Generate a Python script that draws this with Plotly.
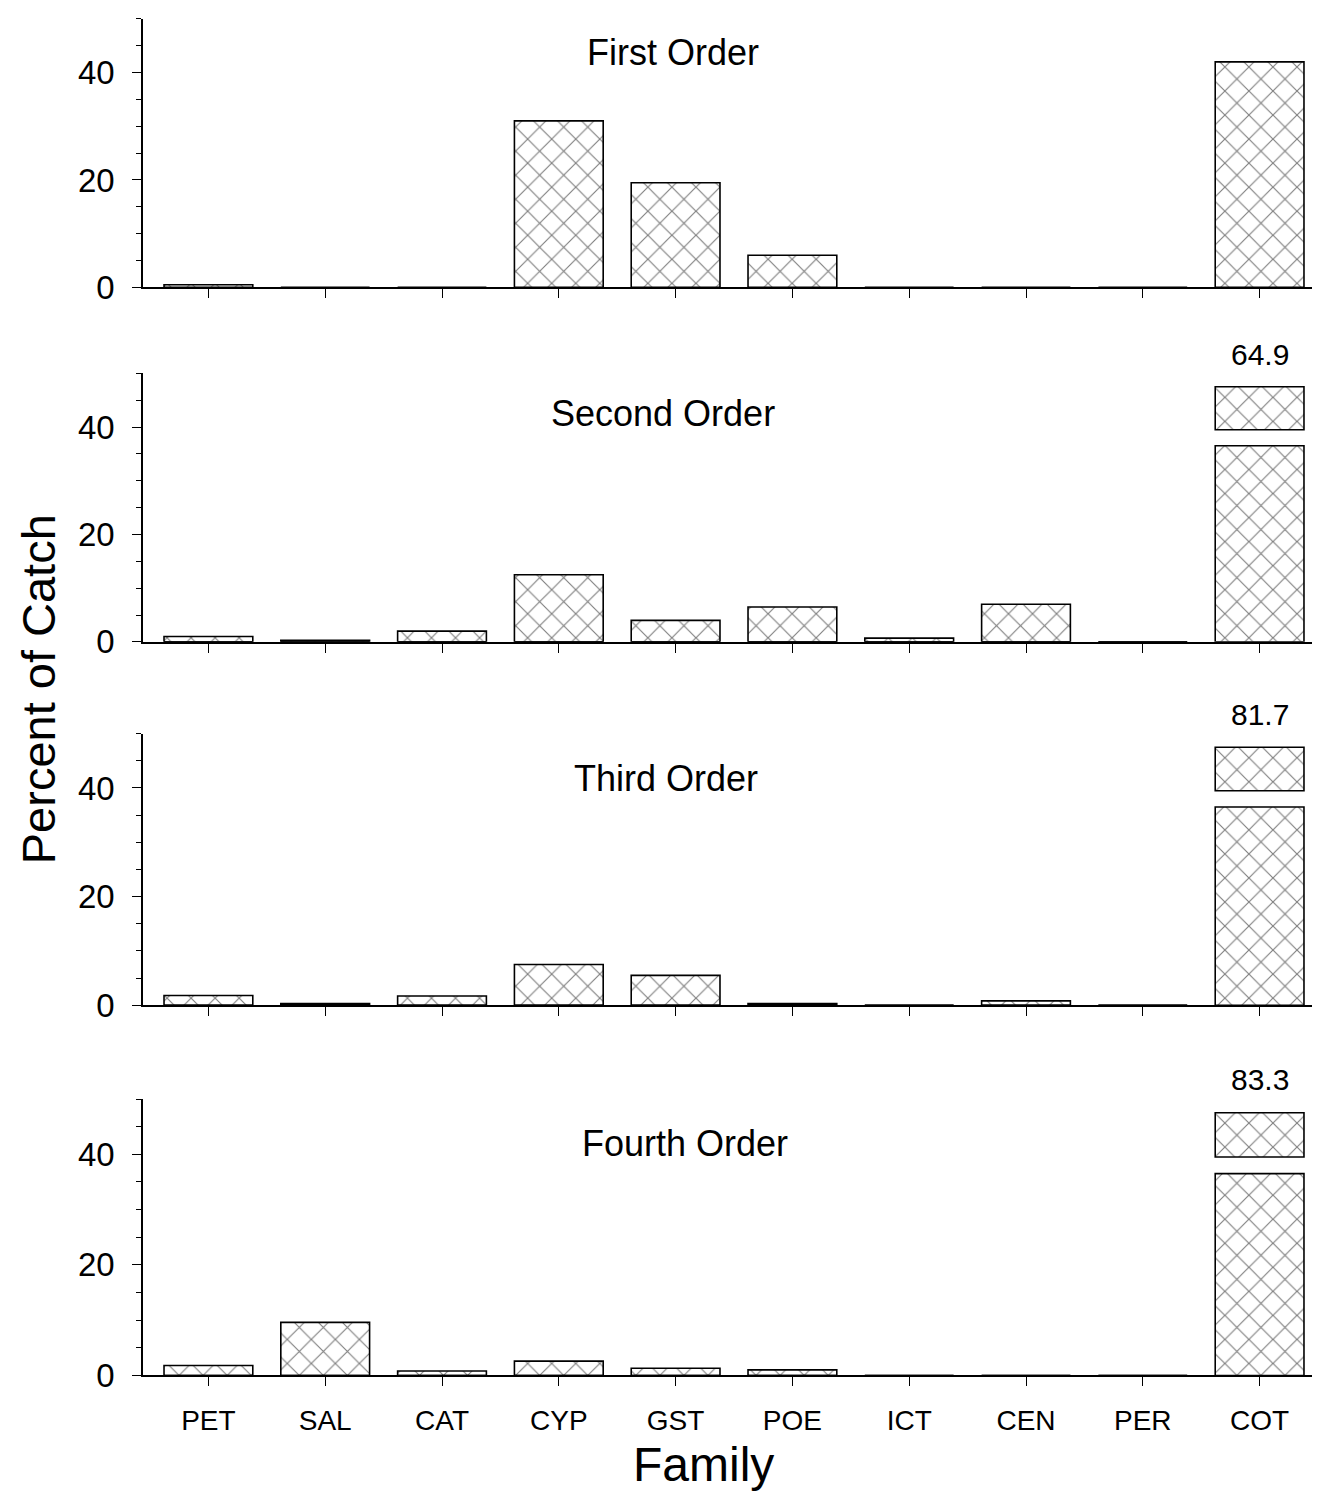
import plotly.graph_objects as go

families = ["PET", "SAL", "CAT", "CYP", "GST", "POE", "ICT", "CEN", "PER", "COT"]
orders = ["First Order", "Second Order", "Third Order", "Fourth Order"]
first_order = [0.5, 0, 0, 31.0, 19.5, 6.0, 0, 0, 0, 42.0]
second_order = [1.0, 0.3, 2.0, 12.5, 4.0, 6.5, 0.7, 7.0, 0, 64.9]
third_order = [1.8, 0.3, 1.7, 7.5, 5.5, 0.3, 0, 0.8, 0, 81.7]
fourth_order = [1.8, 9.6, 0.8, 2.6, 1.3, 1.0, 0, 0, 0, 83.3]
series = [first_order, second_order, third_order, fourth_order]

Y_MAX = 50
BREAK_LOW, BREAK_HIGH, BREAK_TOP = 36.5, 39.5, 47.5

FONT = "Liberation Sans, Arial, Helvetica, sans-serif"
W, H = 1320, 1500
x_dom = [135 / W, 1310 / W]
# (top_px, zero_px) per panel
panels_px = [(11, 283), (370, 642), (735, 1010), (1105, 1385)]
title_pos = [(665, 45), (655, 411), (658, 780), (677, 1150)]

fig = go.Figure()
pattern = dict(shape="x", size=17, solidity=0.13, fgcolor="black", bgcolor="white")

for i, vals in enumerate(series):
    xa = "x" if i == 0 else f"x{i+1}"
    ya = "y" if i == 0 else f"y{i+1}"
    lower = [min(v, BREAK_LOW) if v > Y_MAX else v for v in vals]
    upper_base = [BREAK_HIGH if v > Y_MAX else 0 for v in vals]
    upper_h = [(BREAK_TOP - BREAK_HIGH) if v > Y_MAX else 0 for v in vals]
    fig.add_trace(go.Bar(
        x=families, y=lower, xaxis=xa, yaxis=ya, width=0.76,
        marker=dict(color="white", line=dict(color="black", width=1.6), pattern=pattern),
        hoverinfo="skip", showlegend=False))
    if any(h > 0 for h in upper_h):
        fig.add_trace(go.Bar(
            x=families, y=upper_h, base=upper_base, xaxis=xa, yaxis=ya, width=0.76,
            marker=dict(color="white", line=dict(color="black", width=1.6), pattern=pattern),
            hoverinfo="skip", showlegend=False))
        for f, v in zip(families, vals):
            if v > Y_MAX:
                fig.add_annotation(x=f, y=53.5 / Y_MAX, xref=xa, yref=f"{ya} domain",
                                   text=f"{v:.1f}", showarrow=False,
                                   xanchor="center", yanchor="middle",
                                   font=dict(family=FONT, size=30, color="black"))
    top_px, zero_px = panels_px[i]
    ydom = [1 - zero_px / H, 1 - top_px / H]
    xkey = "xaxis" if i == 0 else f"xaxis{i+1}"
    ykey = "yaxis" if i == 0 else f"yaxis{i+1}"
    fig.update_layout(**{
        xkey: dict(domain=x_dom, anchor=ya, range=[-0.56, 9.5], showline=True,
                   linecolor="black", linewidth=1.6, ticks="outside", ticklen=9,
                   tickwidth=1.3, tickcolor="black", showgrid=False, zeroline=False,
                   showticklabels=(i == 3), categoryorder="array", categoryarray=families,
                   ticklabelstandoff=10,
                   tickfont=dict(family=FONT, size=28, color="black")),
        ykey: dict(domain=ydom, anchor=xa, range=[0, Y_MAX], showline=True,
                   linecolor="black", linewidth=1.6, ticks="outside", ticklen=9,
                   tickwidth=1.3, tickcolor="black", tickvals=[0, 20, 40],
                   showgrid=False, zeroline=False, ticklabelstandoff=11,
                   minor=dict(dtick=5, ticks="outside", ticklen=5, tickcolor="black", tickwidth=1),
                   tickfont=dict(family=FONT, size=33, color="black")),
    })
    tx, ty = title_pos[i]
    fig.add_annotation(x=tx / W, y=1 - ty / H, xref="paper", yref="paper", text=orders[i],
                       xanchor="center", yanchor="middle",
                       showarrow=False, font=dict(family=FONT, size=36, color="black"))

fig.add_annotation(x=30 / W, y=1 - 690 / H, xref="paper", yref="paper", text="Percent of Catch",
                   textangle=-90, showarrow=False, xanchor="center", yanchor="middle",
                   font=dict(family=FONT, size=47, color="black"))
fig.add_annotation(x=695 / W, y=1 - 1475 / H, xref="paper", yref="paper", text="Family",
                   showarrow=False, xanchor="center", yanchor="middle",
                   font=dict(family=FONT, size=48, color="black"))

fig.update_layout(width=W, height=H, margin=dict(l=0, r=0, t=0, b=0),
                  paper_bgcolor="white", plot_bgcolor="white", barmode="overlay",
                  font=dict(family=FONT, color="black"))
fig.write_html("out.html")
